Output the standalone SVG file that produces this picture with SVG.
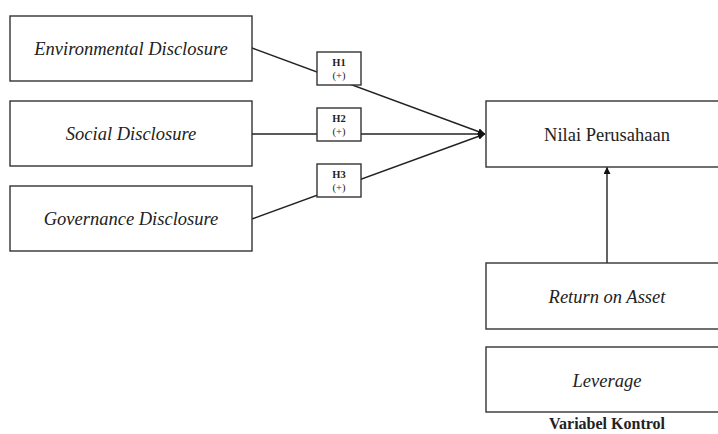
<svg xmlns="http://www.w3.org/2000/svg" width="718" height="434" viewBox="0 0 718 434">
<style>
.box{fill:#fff;stroke:#333;stroke-width:1.4}
.lbl{font-family:"Liberation Serif","Times New Roman",serif;font-size:18.5px;fill:#222;text-anchor:middle}
.it{font-style:italic}
.h{font-family:"Liberation Serif","Times New Roman",serif;font-size:10.5px;fill:#222;text-anchor:middle}
.ln{stroke:#222;stroke-width:1.4;fill:none}
</style>
<defs>
<marker id="arr" viewBox="0 0 10 10" refX="10" refY="5" markerWidth="7" markerHeight="7" orient="auto" markerUnits="userSpaceOnUse">
<path d="M0,0 L10,5 L0,10 z" fill="#111"/>
</marker>
</defs>
<g id="connectors">
<line class="ln" x1="252" y1="48" x2="485" y2="134" marker-end="url(#arr)"/>
<line class="ln" x1="252" y1="134" x2="485" y2="134" marker-end="url(#arr)"/>
<line class="ln" x1="252" y1="219" x2="485" y2="134" marker-end="url(#arr)"/>
<line class="ln" x1="607" y1="263" x2="607" y2="167" marker-end="url(#arr)"/>
</g>
<g id="env"><rect class="box" x="10" y="16" width="242" height="65"/><text class="lbl it" x="131" y="55">Environmental Disclosure</text></g>
<g id="soc"><rect class="box" x="10" y="101" width="242" height="65"/><text class="lbl it" x="131" y="140">Social Disclosure</text></g>
<g id="gov"><rect class="box" x="10" y="186" width="242" height="65"/><text class="lbl it" x="131" y="225">Governance Disclosure</text></g>
<g id="h1"><rect class="box" x="317" y="52" width="44" height="33"/><text class="h" x="339" y="66" font-weight="bold">H1</text><text class="h" x="339" y="79">(+)</text></g>
<g id="h2"><rect class="box" x="317" y="108" width="44" height="33"/><text class="h" x="339" y="122" font-weight="bold">H2</text><text class="h" x="339" y="135">(+)</text></g>
<g id="h3"><rect class="box" x="317" y="164" width="44" height="33"/><text class="h" x="339" y="178" font-weight="bold">H3</text><text class="h" x="339" y="191">(+)</text></g>
<g id="nilai"><rect class="box" x="486" y="101" width="240" height="66"/><text class="lbl" x="607" y="141">Nilai Perusahaan</text></g>
<g id="roa"><rect class="box" x="486" y="263" width="240" height="66"/><text class="lbl it" x="607" y="303">Return on Asset</text></g>
<g id="lev"><rect class="box" x="486" y="347" width="240" height="65"/><text class="lbl it" x="607" y="387">Leverage</text></g>
<text x="607" y="429" font-family="Liberation Serif,'Times New Roman',serif" font-size="16" font-weight="bold" fill="#222" text-anchor="middle">Variabel Kontrol</text>
</svg>
